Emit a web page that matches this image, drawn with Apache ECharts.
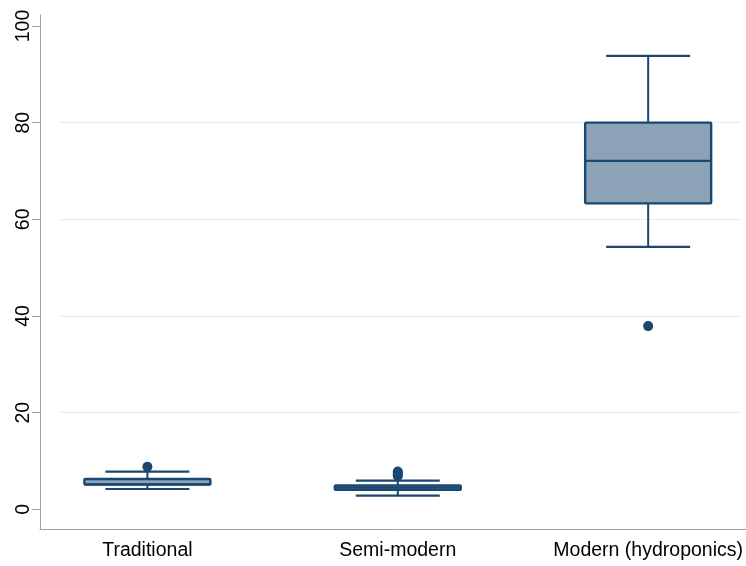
<!DOCTYPE html>
<html>
<head>
<meta charset="utf-8">
<style>html,body{margin:0;padding:0;background:#fff;}#chart{width:746px;height:566px;}</style>
<script src="https://cdn.jsdelivr.net/npm/echarts@6/dist/echarts.min.js"></script>
</head>
<body>
<div id="chart"></div>
<script>
// ---- data ----
const categories = ['Traditional', 'Semi-modern', 'Modern (hydroponics)'];
const whiskerLow  = [4.2, 2.81, 54.3];
const q1          = [5.14, 4.03, 63.3];
const median      = [5.14, 4.47, 72.1];
const q3          = [6.28, 4.92, 80.0];
const whiskerHigh = [7.78, 5.92, 93.8];
const outliers    = [[8.8], [6.9, 7.2, 7.5, 7.8], [37.9]];
const yTicks      = [0, 20, 40, 60, 80, 100];
const gridValues  = [20, 40, 60, 80];

// ---- style ----
const NAVY = '#1a476f';
const FILL = '#8ca3b7';
const X_MIN = 0.571, X_MAX = 3.389;
const Y_MIN = -4.14, Y_MAX = 102.27;
const BOX_W = 126, CAP_W = 84;
const FONT = '"Liberation Sans", Arial, sans-serif';

const boxData = categories.map((c, i) => [i + 1, whiskerLow[i], q1[i], median[i], q3[i], whiskerHigh[i]]);
const outlierData = [];
outliers.forEach((arr, i) => arr.forEach(v => outlierData.push([i + 1, v])));

function renderBox(params, api) {
  const x = api.value(0);
  const pMin = api.coord([x, api.value(1)]);
  const pQ1 = api.coord([x, api.value(2)]);
  const pMed = api.coord([x, api.value(3)]);
  const pQ3 = api.coord([x, api.value(4)]);
  const pMax = api.coord([x, api.value(5)]);
  const cx = pMed[0];
  const hw = BOX_W / 2, cw = CAP_W / 2;
  const ls = { stroke: NAVY, lineWidth: 2 };
  return {
    type: 'group',
    children: [
      { type: 'line', shape: { x1: cx, y1: pQ3[1], x2: cx, y2: pMax[1] }, style: ls },
      { type: 'line', shape: { x1: cx, y1: pQ1[1], x2: cx, y2: pMin[1] }, style: ls },
      { type: 'line', shape: { x1: cx - cw, y1: pMax[1], x2: cx + cw, y2: pMax[1] }, style: { stroke: NAVY, lineWidth: 2.2 } },
      { type: 'line', shape: { x1: cx - cw, y1: pMin[1], x2: cx + cw, y2: pMin[1] }, style: { stroke: NAVY, lineWidth: 2.2 } },
      { type: 'rect', shape: { x: cx - hw, y: pQ3[1], width: BOX_W, height: pQ1[1] - pQ3[1], r: 1 },
        style: { fill: FILL, stroke: NAVY, lineWidth: 2.4 } },
      { type: 'line', shape: { x1: cx - hw, y1: pMed[1], x2: cx + hw, y2: pMed[1] }, style: { stroke: NAVY, lineWidth: 2.2 } }
    ]
  };
}

const chart = echarts.init(document.getElementById('chart'), null, { renderer: 'canvas' });
chart.setOption({
  animation: false,
  backgroundColor: '#fff',
  grid: { left: 40, right: 0, top: 15, bottom: 36.7, containLabel: false },
  xAxis: {
    type: 'value', min: X_MIN, max: X_MAX,
    axisLine: { show: true, onZero: false, lineStyle: { color: '#a0a0a0', width: 1 } },
    axisTick: { show: false },
    splitLine: { show: false },
    axisLabel: {
      customValues: [1, 2, 3],
      formatter: v => categories[Math.round(v) - 1] || '',
      color: '#000', fontFamily: FONT, fontSize: 19.5, margin: 11
    }
  },
  yAxis: {
    type: 'value', min: Y_MIN, max: Y_MAX,
    axisLine: { show: true, onZero: false, lineStyle: { color: '#a0a0a0', width: 1 } },
    axisTick: { show: true, customValues: yTicks, length: 8, lineStyle: { color: '#a0a0a0', width: 1 } },
    splitLine: { show: false },
    axisLabel: {
      customValues: yTicks, rotate: 90,
      color: '#000', fontFamily: FONT, fontSize: 19.5, margin: 6
    }
  },
  series: [
    {
      type: 'custom',
      renderItem: renderBox,
      data: boxData,
      encode: { x: 0, y: [1, 2, 3, 4, 5] },
      silent: true,
      z: 3,
      markLine: {
        silent: true, symbol: 'none', z: 0,
        label: { show: false },
        lineStyle: { color: '#e4ecef', width: 1, type: 'solid' },
        data: gridValues.map(v => [{ coord: [X_MIN + 0.08, v] }, { coord: [X_MAX - 0.02, v] }])
      }
    },
    {
      type: 'scatter',
      data: outlierData,
      symbol: 'circle',
      symbolSize: 10,
      itemStyle: { color: NAVY, opacity: 1 },
      silent: true,
      z: 4
    }
  ]
});
</script>
</body>
</html>
